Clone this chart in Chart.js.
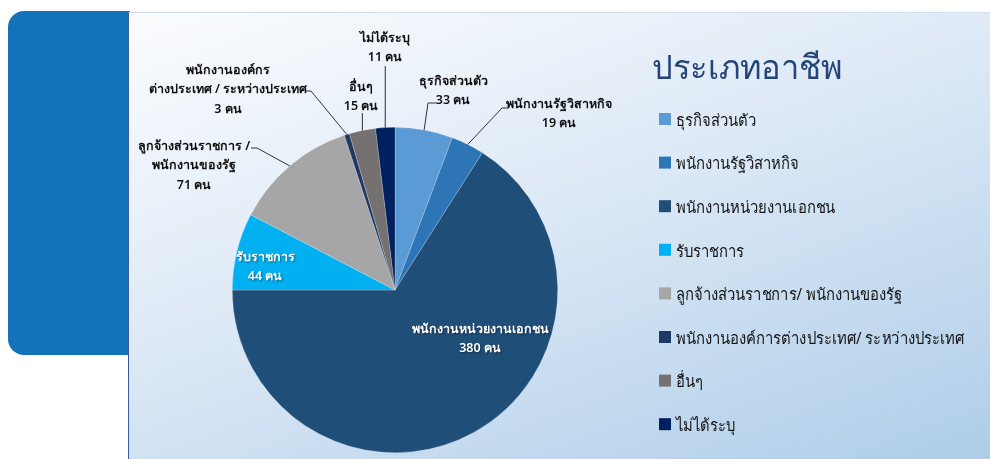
<!DOCTYPE html>
<html lang="th">
<head>
<meta charset="utf-8">
<title>ประเภทอาชีพ</title>
<script src="https://cdn.jsdelivr.net/npm/chart.js@4/dist/chart.umd.min.js"></script>
<style>
  html, body {
    margin: 0;
    padding: 0;
    width: 990px;
    height: 459px;
    overflow: hidden;
    background: #ffffff;
    font-family: "Noto Sans", "DejaVu Sans", sans-serif;
  }
  .side-tab {
    position: absolute;
    left: 8px;
    top: 11px;
    width: 122px;
    height: 344px;
    background: #1273bb;
    border-radius: 16px 0 0 16px;
  }
  .panel {
    position: absolute;
    left: 128px;
    top: 12px;
    width: 862px;
    height: 447px;
    border-left: 1px solid #3b5c9c;
    border-top: 1px solid #d3deec;
    box-sizing: border-box;
    background: linear-gradient(160deg, #fbfcfe 0%, #dde9f6 45%, #aecde9 100%);
  }
  .chart-wrap {
    position: absolute;
    left: 0;
    top: 0;
    width: 990px;
    height: 459px;
  }
</style>
</head>
<body>
<div class="side-tab"></div>
<div class="panel"></div>
<div class="chart-wrap">
  <canvas id="jobChart" width="990" height="459"></canvas>
</div>

<script>
/* =====================================
   Data
===================================== */
const categories = [
  "ธุรกิจส่วนตัว",
  "พนักงานรัฐวิสาหกิจ",
  "พนักงานหน่วยงานเอกชน",
  "รับราชการ",
  "ลูกจ้างส่วนราชการ/ พนักงานของรัฐ",
  "พนักงานองค์การต่างประเทศ/ ระหว่างประเทศ",
  "อื่นๆ",
  "ไม่ได้ระบุ"
];

const counts = [33, 19, 380, 44, 71, 3, 15, 11];

const calloutNames = [
  ["ธุรกิจส่วนตัว"],
  ["พนักงานรัฐวิสาหกิจ"],
  ["พนักงานหน่วยงานเอกชน"],
  ["รับราชการ"],
  ["ลูกจ้างส่วนราชการ /", "พนักงานของรัฐ"],
  ["พนักงานองค์กร", "ต่างประเทศ / ระหว่างประเทศ"],
  ["อื่นๆ"],
  ["ไม่ได้ระบุ"]
];

const unitLabel = "คน";
const chartTitle = "ประเภทอาชีพ";

const sliceColors = [
  "#5b9bd5", "#2e75b6", "#1f4e79", "#00b0f0",
  "#a6a6a6", "#203864", "#767171", "#002060"
];

/* label placement: text centre x, first line y, leader elbow */
const calloutLayout = [
  { x: 453, y: 81, inside: false, elbow: [428, 103], tail: [436, 103] },
  { x: 559, y: 104, inside: false, elbow: [502, 108], tail: [508, 108] },
  { x: 480, y: 329, inside: true },
  { x: 265, y: 257, inside: true },
  { x: 194, y: 146, inside: false, elbow: [257, 148], tail: [251, 148] },
  { x: 228, y: 70, inside: false, elbow: [311, 91], tail: [305, 91] },
  { x: 361, y: 87, inside: false, elbow: null, tail: null, up: 113 },
  { x: 385, y: 38, inside: false, elbow: null, tail: null, up: 66 }
];

/* =====================================
   Page Initialization
===================================== */
document.addEventListener("DOMContentLoaded", () => {
  drawJobChart();
});

/* =====================================
   Callouts + Legend Plugin
===================================== */
const calloutPlugin = {

  id: "callouts",

  afterDatasetsDraw(chart) {

    const ctx = chart.ctx;
    const arcs = chart.getDatasetMeta(0).data;

    ctx.save();
    ctx.font = "600 12.5px 'Noto Sans', 'DejaVu Sans', sans-serif";
    ctx.textAlign = "center";
    ctx.textBaseline = "middle";

    arcs.forEach((arc, i) => {

      const lay = calloutLayout[i];
      const lines = calloutNames[i].concat([counts[i] + " " + unitLabel]);

      if (!lay.inside) {

        const mid = (arc.startAngle + arc.endAngle) / 2;
        const ex = arc.x + Math.cos(mid) * arc.outerRadius;
        const ey = arc.y + Math.sin(mid) * arc.outerRadius;

        ctx.strokeStyle = "#333333";
        ctx.lineWidth = 1;
        ctx.beginPath();
        ctx.moveTo(ex, ey);

        if (lay.elbow) {
          ctx.lineTo(lay.elbow[0], lay.elbow[1]);
          ctx.lineTo(lay.tail[0], lay.tail[1]);
        } else {
          ctx.lineTo(ex, lay.up);
        }

        ctx.stroke();
      }

      ctx.fillStyle = lay.inside ? "#ffffff" : "#111111";

      if (lay.inside) {
        ctx.shadowColor = "rgba(0,0,0,0.45)";
        ctx.shadowBlur = 2;
        ctx.shadowOffsetX = 1;
        ctx.shadowOffsetY = 1;
      }

      lines.forEach((line, k) => {
        ctx.fillText(line, lay.x, lay.y + k * 19.5);
      });

      ctx.shadowColor = "transparent";
    });

    /* title */
    ctx.textAlign = "left";
    ctx.textBaseline = "alphabetic";
    ctx.fillStyle = "#25457a";
    ctx.font = "34px 'Noto Sans', 'DejaVu Sans', sans-serif";
    ctx.save();
    ctx.translate(652, 79);
    ctx.scale(0.96, 1);
    ctx.fillText(chartTitle, 0, 0);
    ctx.restore();

    /* legend */
    ctx.font = "16.5px 'Noto Sans', 'DejaVu Sans', sans-serif";
    ctx.textBaseline = "middle";

    categories.forEach((name, i) => {

      const y = 119 + i * 43.6;

      ctx.fillStyle = sliceColors[i];
      ctx.fillRect(659, y - 6, 12, 12);

      ctx.fillStyle = "#141414";
      ctx.save();
      ctx.translate(676, y + 2);
      ctx.scale(0.9, 1);
      ctx.fillText(name, 0, 0);
      ctx.restore();
    });

    ctx.restore();
  }
};

/* =====================================
   Pie Chart
===================================== */
function drawJobChart() {

  const canvas =
    document.getElementById("jobChart");

  if (!canvas || typeof Chart === "undefined") return;

  new Chart(canvas, {

    type: "pie",

    data: {

      labels: categories,

      datasets: [
        {
          data: counts,

          backgroundColor: sliceColors,

          borderColor: "rgba(255,255,255,0.35)",

          borderWidth: 0.6
        }
      ]
    },

    options: {

      responsive: false,

      animation: false,

      layout: {
        padding: {
          left: 232,
          right: 432,
          top: 127,
          bottom: 6
        }
      },

      plugins: {

        legend: {
          display: false
        },

        tooltip: {
          enabled: false
        }
      }
    },

    plugins: [calloutPlugin]
  });
}
</script>
</body>
</html>
